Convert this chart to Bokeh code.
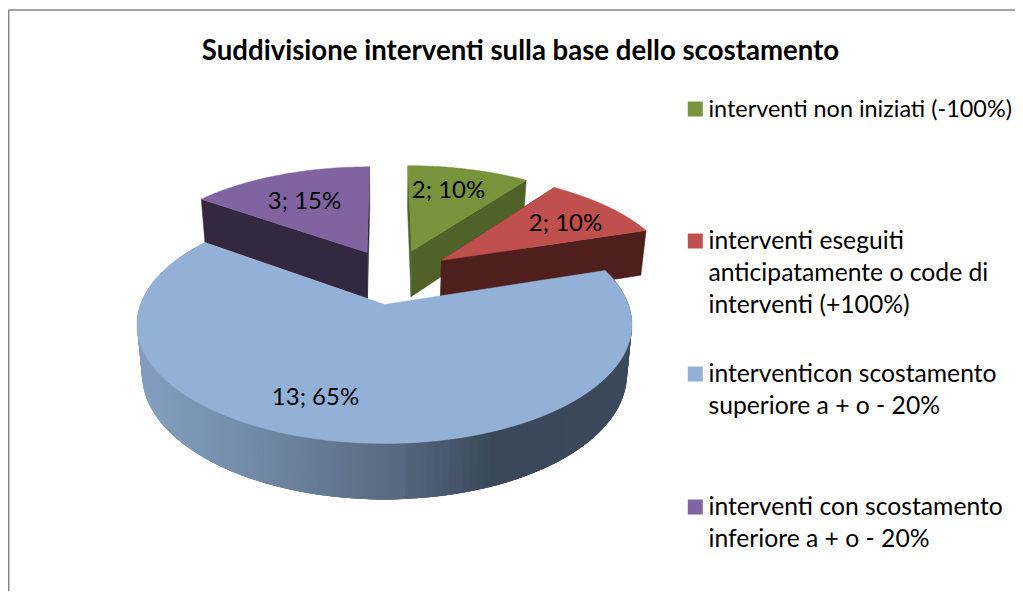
import numpy as np
from bokeh.plotting import figure
from bokeh.models import Range1d
from bokeh.core.properties import value
from bokeh.embed import file_html
from bokeh.resources import INLINE

# ---- data
title_text = "Suddivisione interventi sulla base dello scostamento"
values = [2, 2, 13, 3]
legend_lines = [
    ["interventi non iniziati (-100%)"],
    ["interventi eseguiti", "anticipatamente o code di", "interventi (+100%)"],
    ["interventicon scostamento", "superiore a + o - 20%"],
    ["interventi con scostamento", "inferiore a + o - 20%"],
]
top_colors = ["#77933c", "#c0504d", "#93b1d6", "#8064a2"]
wall_colors = ["#4f6228", "#4f1f1e", "#3c495b", "#33283f"]

# ---- layout
W, H = 1015, 591
CX, CY, A, B, K = 384.0, 304.0, 244.0, 115.7, 0.1675
EXPLODE = 0.2586
SCALE_LOW = 0.98
label_pos = [(448, 188), (565, 221), (315, 395), (304, 199)]
legend_swatch_y = [108.5, 240.5, 373.5, 506.5]
legend_sizes = ["23.4px", "24.7px", "24.7px", "24.7px"]
line_step = 32
grad_x = [137, 240, 340, 420, 490, 640]
grad_c = [(0x84, 0x9f, 0xc0), (0x71, 0x89, 0xa6), (0x5e, 0x71, 0x89),
          (0x4f, 0x60, 0x77), (0x3b, 0x48, 0x5b), (0x3c, 0x49, 0x5b)]

FONT = value("Lato")


def project(wx, wy):
    w = 1 + K * wy
    return CX + A * wx / w, CY - B * wy / w


def lower(x, y):
    return CX + (x - CX) * SCALE_LOW, y + 43 + 0.053 * (y - 198)


total = sum(values)
edges = np.radians(np.cumsum([0] + values) / total * 360.0)
mids = (edges[:-1] + edges[1:]) / 2
big = int(np.argmax(values))
off_x = EXPLODE * (np.sin(mids) - np.sin(mids[big]))
off_y = EXPLODE * (np.cos(mids) - np.cos(mids[big]))

p = figure(width=W, height=H, x_range=Range1d(0, W), y_range=Range1d(H, 0),
           output_backend="svg", toolbar_location=None, min_border=0,
           outline_line_color=None, background_fill_color="white", border_fill_color="white")
p.axis.visible = False
p.grid.visible = False

# chart frame
p.line([8.25, 8.25, W], [H, 9.5, 9.5], line_color="#868686", line_width=1.5)


def slice_xy(i, theta):
    return project(off_x[i] + np.sin(theta), off_y[i] + np.cos(theta))


def apex(i):
    return project(off_x[i], off_y[i])


def radial_wall(i, theta):
    ax, ay = apex(i)
    ox, oy = slice_xy(i, np.array(theta))
    lax, lay = lower(ax, ay)
    lox, loy = lower(ox, oy)
    p.patch([ax, ox, lox, lax], [ay, oy, loy, lay], fill_color=wall_colors[i],
            line_color=wall_colors[i], line_width=0.5)


def top(i):
    th = np.linspace(edges[i], edges[i + 1], 120)
    ax, ay = apex(i)
    x, y = slice_xy(i, th)
    p.patch(np.r_[ax, x], np.r_[ay, y], fill_color=top_colors[i], line_color=top_colors[i],
            line_width=0.5)


# back slices
radial_wall(3, edges[3])
radial_wall(3, edges[4])
top(3)
radial_wall(0, edges[0])
radial_wall(0, edges[1])
top(0)
radial_wall(1, edges[1])
radial_wall(1, edges[2])
top(1)

# big slice: shaded wall, painted as overlapping strips left to right
n = 160
th = np.linspace(edges[2], edges[3], n + 1)
tx, ty = slice_xy(2, th)
lx, ly = lower(tx, ty)
order = sorted(range(n), key=lambda j: -(lx[j] + lx[j + 1]))
xs, ys, cs = [], [], []
for j in order:
    xm = (lx[j] + lx[j + 1]) / 2
    rgb = [int(round(np.interp(xm, grad_x, [c[k] for c in grad_c]))) for k in range(3)]
    # each strip reaches over its neighbour so no seams show
    k = min(j + 3, n) if lx[j] > CX else max(j - 3, 0)
    a, b = (j, k) if k > j else (k, j + 1)
    xs.append([tx[a], tx[b], lx[b], lx[a]])
    ys.append([ty[a], ty[b], ly[b], ly[a]])
    cs.append("#%02x%02x%02x" % tuple(rgb))
p.patches(xs, ys, fill_color=cs, line_color=None)
top(2)

# data labels
for i, (lxp, lyp) in enumerate(label_pos):
    pct = round(values[i] / total * 100)
    p.text([lxp], [lyp], text=[f"{values[i]}; {pct}%"], text_font=FONT, text_font_size="24px",
           text_color="black", text_align="center", text_baseline="middle")

# title
p.text([520], [49], text=[title_text], text_font=FONT, text_font_size="27.6px",
       text_font_style="bold", text_color="black", text_align="center", text_baseline="middle")

# legend
for i, lines in enumerate(legend_lines):
    yc = legend_swatch_y[i]
    p.rect([694.8], [yc], width=15, height=15, fill_color=top_colors[i], line_color=None)
    for j, t in enumerate(lines):
        p.text([708], [yc - 1.5 + j * line_step], text=[t], text_font=FONT,
               text_font_size=legend_sizes[i], text_color="black",
               text_align="left", text_baseline="middle")

open("out.html", "w").write(file_html(p, INLINE))
